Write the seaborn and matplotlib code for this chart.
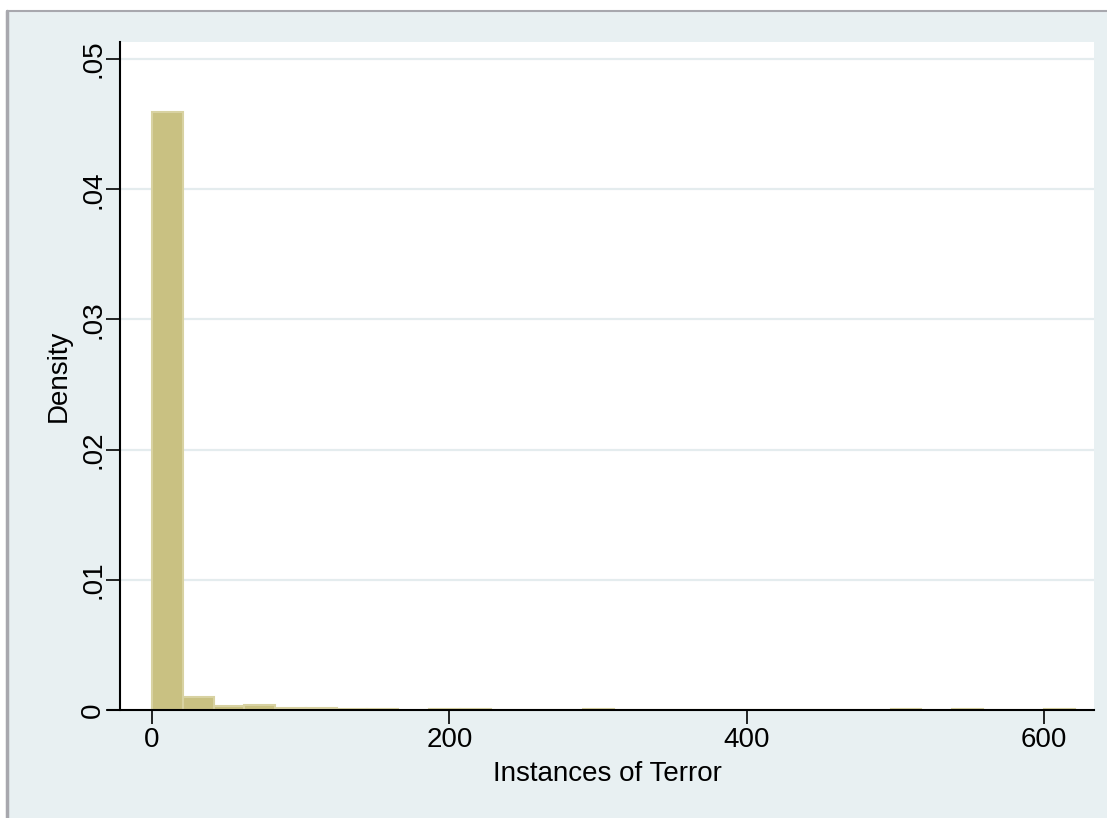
import numpy as np
import pandas as pd
import matplotlib
matplotlib.use("Agg")
import matplotlib.pyplot as plt
import seaborn as sns
from matplotlib.lines import Line2D
from matplotlib.patches import Rectangle

# ---- data ----
bin_width = 20.7
n_bins = 30
densities = [0.0459, 0.0010, 0.0003, 0.00035, 0.00012, 0.00012, 0.0001, 0.0001,
             0.0, 0.0001, 0.0001, 0.0, 0.0, 0.0, 0.0001, 0.0, 0.0, 0.0, 0.0, 0.0,
             0.0, 0.0, 0.0, 0.0, 0.0001, 0.0, 0.0001, 0.0, 0.0, 0.0001]
x_ticks = [0, 200, 400, 600]
y_ticks = [0, 0.01, 0.02, 0.03, 0.04, 0.05]
y_tick_labels = ["0", ".01", ".02", ".03", ".04", ".05"]
x_label = "Instances of Terror"
y_label = "Density"

edges = np.arange(n_bins + 1) * bin_width
centers = (edges[:-1] + edges[1:]) / 2
df = pd.DataFrame({"x": centers, "w": densities})

sns.set_theme(style="white")
plt.rcParams['font.family'] = ['Liberation Sans', 'DejaVu Sans']

W, H = 1107, 818
fig = plt.figure(figsize=(W / 100, H / 100), dpi=100)
fig.patch.set_facecolor("white")
bg = "#E8F0F2"
fig.add_artist(Rectangle((7 / W, 0), 1, 1 - 11 / H, transform=fig.transFigure,
                         facecolor=bg, edgecolor="none", zorder=-10))
fig.add_artist(Line2D([7 / W, 1], [1 - 11 / H, 1 - 11 / H], transform=fig.transFigure,
                      color="#A8A8AE", lw=1.5))
fig.add_artist(Line2D([7 / W, 7 / W], [0, 1 - 11 / H], transform=fig.transFigure,
                      color="#A8A8AE", lw=2.5))

left, right, top, bottom = 120, 1094, 42, 710
ax = fig.add_axes([left / W, 1 - bottom / H, (right - left) / W, (bottom - top) / H])
ax.set_facecolor("white")

sns.histplot(data=df, x="x", weights="w", bins=n_bins, binrange=(0, n_bins * bin_width),
             stat="count", ax=ax,
             color="#C9C182", edgecolor="#D8D2A2", linewidth=1.5, alpha=1, zorder=3)

px_per_unit = (1044 - 152) / 600
xmin = (left - 152) / px_per_unit
xmax = (right - 152) / px_per_unit
ax.set_xlim(xmin, xmax)
py_per_unit = (710 - 59) / 0.05
ax.set_ylim(0, (bottom - top) / py_per_unit)

for yv in y_ticks[1:]:
    ax.axhline(yv, color="#E4ECEE", lw=1.6, zorder=1)

ax.set_xticks(x_ticks)
ax.set_xticklabels([str(v) for v in x_ticks])
ax.set_yticks(y_ticks)
ax.set_yticklabels(y_tick_labels, rotation=90, va="center")
ax.tick_params(axis="both", direction="out", length=10, width=1.2, color="black",
               labelsize=20, labelcolor="black", pad=2)
ax.tick_params(axis="y", left=True, pad=0)
ax.tick_params(axis="x", bottom=True)

for s in ["top", "right"]:
    ax.spines[s].set_visible(False)
for s in ["left", "bottom"]:
    ax.spines[s].set_visible(True)
    ax.spines[s].set_color("black")
    ax.spines[s].set_linewidth(1.5)
ax.spines["bottom"].set_bounds((108 - 152) / px_per_unit, xmax)
ax.spines["bottom"].set_zorder(5)

ax.set_xlabel(x_label, fontsize=20, color="black", labelpad=6)
ax.set_ylabel(y_label, fontsize=20, color="black", labelpad=6)

fig.savefig("out.png", dpi=100, facecolor=fig.get_facecolor())
